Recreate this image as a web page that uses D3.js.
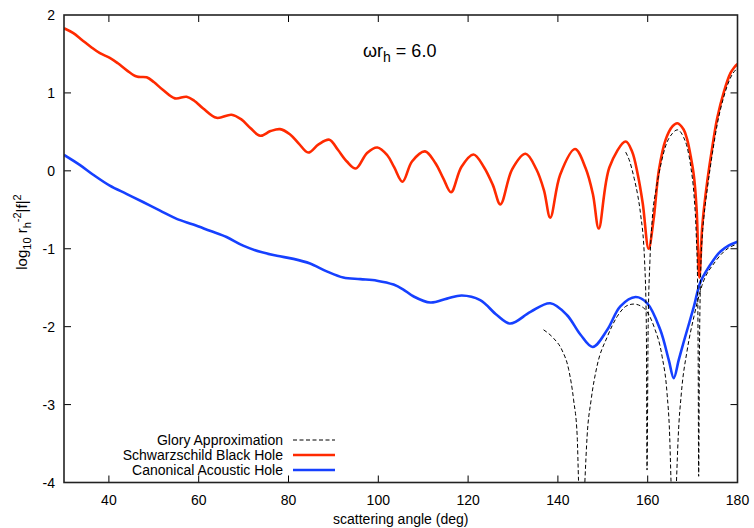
<!DOCTYPE html>
<html>
<head>
<meta charset="utf-8">
<script src="https://cdn.jsdelivr.net/npm/d3@7"></script>
<style>
  html, body { margin: 0; padding: 0; background: #fff; }
  svg { display: block; }
  text { font-family: "Liberation Sans", Arial, Helvetica, sans-serif; fill: #000; }
</style>
</head>
<body>
<svg id="chart" width="754" height="528"></svg>
<script>
// ---------------- DATA ----------------
const xTicks = [40, 60, 80, 100, 120, 140, 160, 180];
const yTicks = [-4, -3, -2, -1, 0, 1, 2];

// Schwarzschild Black Hole: [scattering angle (deg), log10 r_h^-2 |f|^2]
const schwarzschild = [
  [30,1.83],[32,1.77],[34,1.68],[36,1.59],[38,1.51],[40.2,1.45],[42,1.38],[44,1.29],
  [46.2,1.21],[48.4,1.20],[50,1.14],[52,1.04],[54.7,0.93],[57.3,0.95],[59,0.90],[61,0.80],
  [64,0.68],[67.3,0.72],[69.5,0.66],[71.5,0.55],[73.7,0.45],[76,0.51],[78.1,0.535],
  [80.3,0.47],[82.3,0.35],[84.4,0.235],[86.7,0.34],[89.1,0.40],[91,0.27],[93,0.12],
  [95,0.03],[97.5,0.23],[99.8,0.30],[102,0.20],[103.5,0.05],[105.4,-0.14],[107.5,0.12],
  [110.4,0.25],[112.7,0.10],[114.5,-0.10],[116.2,-0.275],[118.5,0.05],[121.2,0.21],
  [123.5,0.05],[125.5,-0.18],[127.2,-0.43],[129.8,0.02],[132.8,0.22],[135.2,0.02],
  [136.9,-0.25],[138.3,-0.60],[140.5,-0.05],[143.8,0.28],[146.2,0.03],[147.8,-0.30],
  [149.1,-0.74],[151.5,0.05],[155.1,0.376],[156.5,0.25],[157.8,-0.05],[158.9,-0.42],
  [160.2,-1.0],[161.3,-0.63],[162.5,0.01],[164,0.40],[165.5,0.57],[166.6,0.61],[168,0.53],
  [168.8,0.40],[169.6,0.18],[170.3,-0.07],[170.9,-0.5],[171.5,-1.37],[172.1,-0.75],
  [172.5,-0.5],[173.3,-0.12],[174.4,0.31],[175.5,0.68],[177,1.02],[178.4,1.25],
  [179.3,1.33],[180,1.37]
];

// Canonical Acoustic Hole
const acoustic = [
  [30,0.205],[33.5,0.077],[36.5,-0.05],[40.2,-0.19],[43.9,-0.295],[47.6,-0.40],[51.4,-0.51],
  [55.1,-0.616],[58.8,-0.69],[62.5,-0.77],[66.2,-0.85],[69.9,-0.96],[73.7,-1.04],[77.4,-1.09],
  [81.1,-1.13],[84.8,-1.19],[88.5,-1.29],[92.2,-1.37],[96,-1.39],[99.7,-1.41],[103.4,-1.46],
  [105.5,-1.52],[107.8,-1.61],[111.6,-1.69],[115.3,-1.64],[118.6,-1.60],[122.7,-1.66],
  [126.4,-1.85],[129.4,-1.96],[133.9,-1.81],[138.3,-1.70],[142,-1.85],[145,-2.10],
  [147.75,-2.26],[151,-2.04],[153.9,-1.74],[157.3,-1.62],[159.9,-1.70],[162.8,-2.04],
  [164.7,-2.43],[165.8,-2.66],[166.9,-2.43],[168,-2.20],[170.3,-1.74],[171.8,-1.42],
  [174.7,-1.14],[176.2,-1.035],[178,-0.96],[180,-0.91]
];

// Glory approximation for the acoustic hole
const gloryAcoustic = [
  [136.8,-2.04],[139.05,-2.15],[140.9,-2.30],[142.4,-2.55],[143.5,-2.94],[144.3,-3.41],
  [144.6,-3.99],[145.3,-5.0],[146.0,-4.0],[146.5,-3.41],[147.4,-2.94],[148.7,-2.51],
  [151,-2.13],[153.2,-1.87],[155.4,-1.73],[156.9,-1.71],[159.1,-1.76],[161.4,-2.0],
  [163.2,-2.38],[164.3,-2.85],[164.9,-3.41],[165.2,-4.0],[165.8,-5.0],[166.4,-4.0],
  [166.8,-3.41],[167.5,-2.85],[168.8,-2.30],[170.3,-1.87],[172.1,-1.47],[175,-1.17],
  [178,-0.99],[180,-0.94]
];

// Glory approximation for the Schwarzschild black hole
const glorySchwarzschild = [
  [155.1,0.24],[156,0.12],[157,-0.1],[157.8,-0.32],[158.4,-0.55],[159.3,-1.15],
  [159.7,-2.0],[159.85,-3.84],[160.1,-2.0],[160.5,-1.15],[161,-0.63],[162,-0.2],
  [163,0.1],[164,0.32],[165.5,0.48],[166.6,0.526],[168,0.43],[168.8,0.30],[169.6,0.05],
  [170.3,-0.3],[170.8,-0.8],[171.1,-1.4],[171.25,-2.5],[171.35,-3.92],[171.5,-2.5],
  [171.8,-1.3],[172.2,-0.8],[172.5,-0.6],[173.3,-0.22],[174.4,0.22],[175.5,0.6],
  [177,0.96],[178.4,1.19],[180,1.32]
];

const legendItems = [
  {label: "Glory Approximation", key: "glory"},
  {label: "Schwarzschild Black Hole", key: "bh"},
  {label: "Canonical Acoustic Hole", key: "ac"}
];

// ---------------- LAYOUT ----------------
const W = 754, H = 528;
const M = {left: 64, right: 737.5, top: 15, bottom: 482.5};
const RED = "#ff2a00", BLUE = "#1640ff";

const svg = d3.select("#chart");
const x = d3.scaleLinear().domain([30, 180]).range([M.left, M.right]);
const y = d3.scaleLinear().domain([-4, 2]).range([M.bottom, M.top]);

svg.append("defs").append("clipPath").attr("id", "plotclip")
  .append("rect").attr("x", M.left).attr("y", M.top)
  .attr("width", M.right - M.left).attr("height", M.bottom - M.top);

const smooth = d3.line().x(d => x(d[0])).y(d => y(d[1])).curve(d3.curveCatmullRom.alpha(0.5));
const mono = d3.line().x(d => x(d[0])).y(d => y(d[1])).curve(d3.curveMonotoneX);

const plot = svg.append("g").attr("clip-path", "url(#plotclip)");

plot.append("path").datum(gloryAcoustic).attr("d", mono)
  .attr("fill", "none").attr("stroke", "#000").attr("stroke-width", 1)
  .attr("stroke-dasharray", "4,2.5");
plot.append("path").datum(acoustic).attr("d", smooth)
  .attr("fill", "none").attr("stroke", BLUE).attr("stroke-width", 2.6)
  .attr("stroke-linejoin", "round");
plot.append("path").datum(schwarzschild).attr("d", smooth)
  .attr("fill", "none").attr("stroke", RED).attr("stroke-width", 2.6)
  .attr("stroke-linejoin", "round");
plot.append("path").datum(glorySchwarzschild).attr("d", mono)
  .attr("fill", "none").attr("stroke", "#000").attr("stroke-width", 1)
  .attr("stroke-dasharray", "4,2.5");

// ---------------- AXES ----------------
const tickLen = 7;
const axG = svg.append("g");
const xInner = xTicks.filter(t => t > 30 && t < 180);
const yInner = yTicks.filter(t => t > -4 && t < 2);

xInner.forEach(t => {
  axG.append("line").attr("x1", x(t)).attr("x2", x(t)).attr("y1", M.bottom).attr("y2", M.bottom - tickLen)
    .attr("stroke", "#000").attr("stroke-width", 1);
  axG.append("line").attr("x1", x(t)).attr("x2", x(t)).attr("y1", M.top).attr("y2", M.top + tickLen)
    .attr("stroke", "#000").attr("stroke-width", 1);
});
yInner.forEach(t => {
  axG.append("line").attr("x1", M.left).attr("x2", M.left + tickLen).attr("y1", y(t)).attr("y2", y(t))
    .attr("stroke", "#000").attr("stroke-width", 1);
  axG.append("line").attr("x1", M.right).attr("x2", M.right - tickLen).attr("y1", y(t)).attr("y2", y(t))
    .attr("stroke", "#000").attr("stroke-width", 1);
});

axG.append("rect").attr("x", M.left).attr("y", M.top)
  .attr("width", M.right - M.left).attr("height", M.bottom - M.top)
  .attr("fill", "none").attr("stroke", "#222").attr("stroke-width", 1.6);

xTicks.forEach(t => {
  svg.append("text").attr("x", x(t)).attr("y", 505).attr("text-anchor", "middle")
    .attr("font-size", 14).text(t);
});
yTicks.forEach(t => {
  svg.append("text").attr("x", 55).attr("y", y(t) + 5).attr("text-anchor", "end")
    .attr("font-size", 14).text(t);
});

svg.append("text").attr("x", (M.left + M.right) / 2).attr("y", 524).attr("text-anchor", "middle")
  .attr("font-size", 14).text("scattering angle (deg)");

const yl = svg.append("text").attr("transform", "translate(27,232) rotate(-90)")
  .attr("text-anchor", "middle").attr("font-size", 15);
yl.append("tspan").text("log");
yl.append("tspan").attr("dy", 4).attr("font-size", 11).text("10");
yl.append("tspan").attr("dy", -4).text(" r");
yl.append("tspan").attr("dy", 4).attr("font-size", 11).text("h");
yl.append("tspan").attr("dy", -10).attr("font-size", 11).text("-2");
yl.append("tspan").attr("dy", 6).text("|f|");
yl.append("tspan").attr("dy", -6).attr("font-size", 11).text("2");

// Title
const tt = svg.append("text").attr("x", 363).attr("y", 57).attr("font-size", 18);
tt.append("tspan").text("ωr");
tt.append("tspan").attr("dy", 5).attr("font-size", 14).text("h");
tt.append("tspan").attr("dy", -5).text(" = 6.0");

// ---------------- LEGEND ----------------
const legY = [440, 455, 470];
legendItems.forEach((it, i) => {
  svg.append("text").attr("x", 283).attr("y", legY[i] + 5).attr("text-anchor", "end")
    .attr("font-size", 14).text(it.label);
  const ln = svg.append("line").attr("x1", 293).attr("x2", 335).attr("y1", legY[i]).attr("y2", legY[i]);
  if (it.key === "glory") ln.attr("stroke", "#000").attr("stroke-width", 1).attr("stroke-dasharray", "4,2.5");
  if (it.key === "bh") ln.attr("stroke", RED).attr("stroke-width", 2.6);
  if (it.key === "ac") ln.attr("stroke", BLUE).attr("stroke-width", 2.6);
});
</script>
</body>
</html>
